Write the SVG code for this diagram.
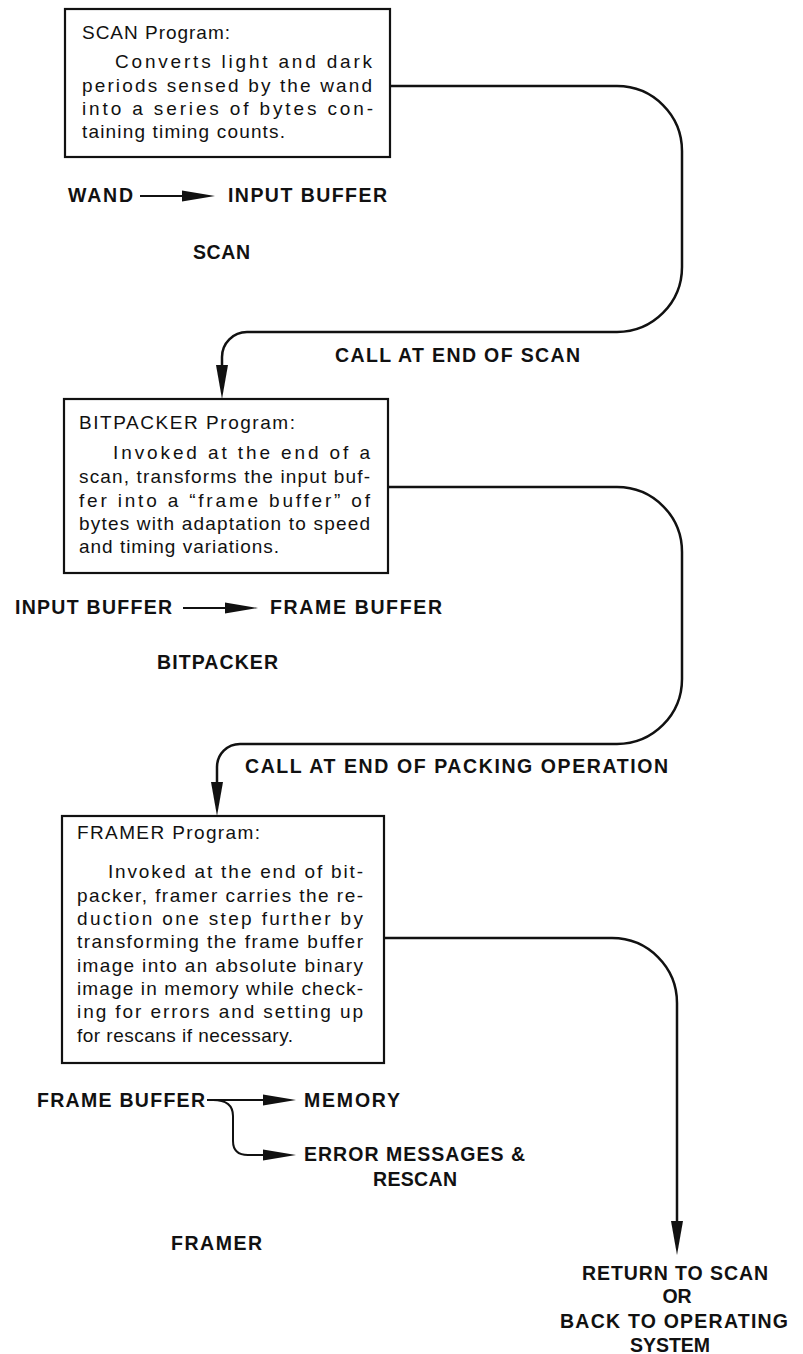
<svg xmlns="http://www.w3.org/2000/svg" width="803" height="1354" viewBox="0 0 803 1354">
<style>
.box{fill:#fff;stroke:#111;stroke-width:2.2}
.t{font-family:"Liberation Sans",Arial,sans-serif;font-size:19px;fill:#111}
.b{font-family:"Liberation Sans",Arial,sans-serif;font-size:19.5px;font-weight:bold;fill:#111}
.m{text-anchor:middle}
.c{fill:none;stroke:#111;stroke-width:2.5}
.s{fill:none;stroke:#111;stroke-width:2}
.h{fill:#111;stroke:none}
</style>
<rect width="803" height="1354" fill="#fff"/>
<g id="connectors">
  <path class="c" d="M390 86 H617 A65 65 0 0 1 682 151 V267 A65 65 0 0 1 617 332 H247 A25 25 0 0 0 222 357 V368"/>
  <polygon class="h" points="222,399 216,365 228,365"/>
  <path class="c" d="M388 487 H617 A65 65 0 0 1 682 552 V679 A65 65 0 0 1 617 744 H240 A23 23 0 0 0 217 767 V785"/>
  <polygon class="h" points="217,816 211,782 223,782"/>
  <path class="c" d="M384 938 H612 A65 65 0 0 1 677 1003 V1224"/>
  <polygon class="h" points="677,1255 671,1221 683,1221"/>
</g>
<g id="scan">
  <rect class="box" x="65" y="9" width="325" height="148"/>
  <text class="t" x="82" y="39" textLength="148" lengthAdjust="spacing">SCAN Program:</text>
  <text class="t" x="115" y="68" textLength="257" lengthAdjust="spacing">Converts light and dark</text>
  <text class="t" x="82" y="92" textLength="290" lengthAdjust="spacing">periods sensed by the wand</text>
  <text class="t" x="82" y="115" textLength="291" lengthAdjust="spacing">into a series of bytes con-</text>
  <text class="t" x="82" y="138" textLength="203" lengthAdjust="spacing">taining timing counts.</text>
</g>
<g id="scan-flow">
  <text class="b" x="68" y="202" textLength="65" lengthAdjust="spacing">WAND</text>
  <line class="s" x1="140" y1="196" x2="190" y2="196"/>
  <polygon class="h" points="215,196 182,190.5 182,201.5"/>
  <text class="b" x="228" y="202" textLength="159" lengthAdjust="spacing">INPUT BUFFER</text>
  <text class="b" x="193" y="259" textLength="57" lengthAdjust="spacing">SCAN</text>
  <text class="b" x="335" y="362" textLength="245" lengthAdjust="spacing">CALL AT END OF SCAN</text>
</g>
<g id="bitpacker">
  <rect class="box" x="64" y="399" width="324" height="174"/>
  <text class="t" x="79" y="429" textLength="216" lengthAdjust="spacing">BITPACKER Program:</text>
  <text class="t" x="113" y="459" textLength="257" lengthAdjust="spacing">Invoked at the end of a</text>
  <text class="t" x="79" y="483" textLength="291" lengthAdjust="spacing">scan, transforms the input buf-</text>
  <text class="t" x="79" y="507" textLength="291" lengthAdjust="spacing">fer into a “frame buffer” of</text>
  <text class="t" x="79" y="530" textLength="291" lengthAdjust="spacing">bytes with adaptation to speed</text>
  <text class="t" x="79" y="553" textLength="200" lengthAdjust="spacing">and timing variations.</text>
</g>
<g id="bitpacker-flow">
  <text class="b" x="15" y="614" textLength="157" lengthAdjust="spacing">INPUT BUFFER</text>
  <line class="s" x1="183" y1="608" x2="233" y2="608"/>
  <polygon class="h" points="258,608 225,602.5 225,613.5"/>
  <text class="b" x="270" y="614" textLength="172" lengthAdjust="spacing">FRAME BUFFER</text>
  <text class="b" x="157" y="669" textLength="121" lengthAdjust="spacing">BITPACKER</text>
  <text class="b" x="245" y="773" textLength="423" lengthAdjust="spacing">CALL AT END OF PACKING OPERATION</text>
</g>
<g id="framer">
  <rect class="box" x="62" y="816" width="322" height="247"/>
  <text class="t" x="77" y="839" textLength="183" lengthAdjust="spacing">FRAMER Program:</text>
  <text class="t" x="108" y="878" textLength="255" lengthAdjust="spacing">Invoked at the end of bit-</text>
  <text class="t" x="77" y="902" textLength="286" lengthAdjust="spacing">packer, framer carries the re-</text>
  <text class="t" x="77" y="925" textLength="286" lengthAdjust="spacing">duction one step further by</text>
  <text class="t" x="77" y="948" textLength="286" lengthAdjust="spacing">transforming the frame buffer</text>
  <text class="t" x="77" y="972" textLength="286" lengthAdjust="spacing">image into an absolute binary</text>
  <text class="t" x="77" y="995" textLength="286" lengthAdjust="spacing">image in memory while check-</text>
  <text class="t" x="77" y="1018" textLength="286" lengthAdjust="spacing">ing for errors and setting up</text>
  <text class="t" x="77" y="1042" textLength="216" lengthAdjust="spacing">for rescans if necessary.</text>
</g>
<g id="framer-flow">
  <text class="b" x="37" y="1107" textLength="168" lengthAdjust="spacing">FRAME BUFFER</text>
  <line class="s" x1="207" y1="1100" x2="270" y2="1100"/>
  <polygon class="h" points="296,1100 263,1094.5 263,1105.5"/>
  <path class="s" d="M213 1100 Q233 1100 233 1116 V1141 Q233 1155 248 1155 H270"/>
  <polygon class="h" points="296,1155 263,1149.5 263,1160.5"/>
  <text class="b" x="304" y="1107" textLength="96" lengthAdjust="spacing">MEMORY</text>
  <text class="b" x="304" y="1161" textLength="221" lengthAdjust="spacing">ERROR MESSAGES &amp;</text>
  <text class="b" x="373" y="1186" textLength="84" lengthAdjust="spacing">RESCAN</text>
  <text class="b" x="171" y="1250" textLength="91" lengthAdjust="spacing">FRAMER</text>
</g>
<g id="return">
  <text class="b" x="582" y="1280" textLength="186" lengthAdjust="spacing">RETURN TO SCAN</text>
  <text class="b m" x="677" y="1303">OR</text>
  <text class="b" x="560" y="1328" textLength="228" lengthAdjust="spacing">BACK TO OPERATING</text>
  <text class="b m" x="670" y="1352">SYSTEM</text>
</g>
</svg>
